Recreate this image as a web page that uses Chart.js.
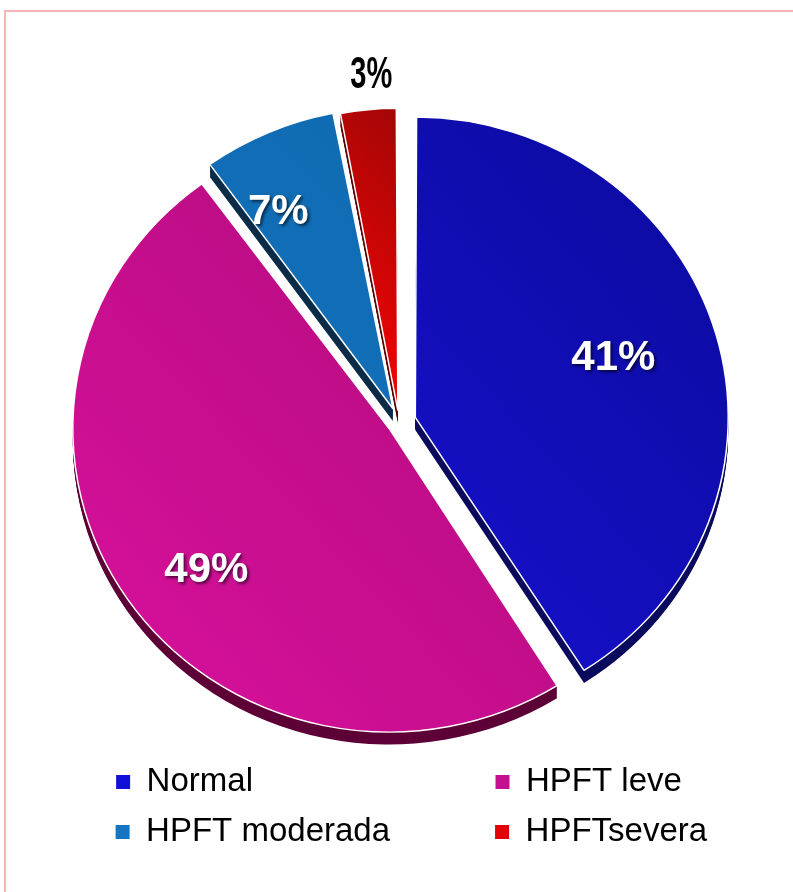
<!DOCTYPE html>
<html>
<head>
<meta charset="utf-8">
<script src="https://cdn.jsdelivr.net/npm/chart.js@4/dist/chart.umd.min.js"></script>
<style>
  html, body { margin: 0; padding: 0; background: #fff; overflow: hidden; }
  #frame { position: absolute; left: 4px; top: 10px; width: 900px; height: 1000px; border: 2px solid #f7b3b3; }
  #wrap { position: absolute; left: 0; top: 0; width: 793px; height: 892px; }
</style>
</head>
<body>
<div id="frame"></div>
<div id="wrap"><canvas id="hpftChart" width="793" height="892"></canvas></div>
<script>
const labels = ['Normal', 'HPFT leve', 'HPFT moderada', 'HPFTsevera'];
const values = [41, 49, 7, 3];

const faceDark = ['#0a0a98', '#a40870', '#0e64a8', '#a00606'];
const faceLight = ['#1c14e4', '#dc12a0', '#1479c6', '#f00404'];
const gradFrom = [0, 0, 0, 0.28];
const gradTo = [1, 1, 1, 0.5];
const sideColors = ['#0b0b5e', '#5e0038', '#0b2c48', '#5c0202'];
const legendColors = ['#1010d8', '#c4108e', '#1476c2', '#e20404'];
const explode = [68, 48, 60, 48];

// where the % labels sit: fraction of the radius and a small turn (degrees)
const labelFrac = [0.68, 0.77, 0.77, 0];
const labelTurn = [-1, -4.5, -5.5, 1];

const FONT = "'Liberation Sans', Arial, sans-serif";
const LEGEND_SIZE = 33;
const SCALE_Y = 0.96;   // slight tilt of the pie
const DEPTH = 13;       // thickness of the 3d side
const COL1_W = 334.5;   // legend column widths (text part)
const COL2_W = 186;

const measureCtx = document.createElement('canvas').getContext('2d');
function padText(t, w) {
  measureCtx.font = LEGEND_SIZE + 'px ' + FONT;
  let s = t;
  let guard = 0;
  while (measureCtx.measureText(s + ' ').width <= w && guard++ < 200) s += ' ';
  guard = 0;
  while (guard++ < 40) {
    const before = measureCtx.measureText(s).width;
    const next = measureCtx.measureText(s + '\u200A').width;
    if (next <= before || next > w) break;
    s += '\u200A';
  }
  return s;
}

function faceGradient(c) {
  const chart = c.chart;
  const a = chart.chartArea;
  const i = c.dataIndex;
  if (!a) return legendColors[i];
  const g = chart.ctx.createLinearGradient(a.right, a.top, a.left, a.bottom);
  g.addColorStop(gradFrom[i], faceDark[i]);
  g.addColorStop(gradTo[i], faceLight[i]);
  return g;
}

// draws the dark side under each slice, squashes the pie a bit, then the % labels
const pie3d = {
  id: 'pie3d',
  beforeDatasetsDraw(chart) {
    const ctx = chart.ctx;
    const arcs = chart.getDatasetMeta(0).data;
    const cx = arcs[0].x, cy = arcs[0].y;
    ctx.save();
    ctx.translate(cx, cy);
    ctx.scale(1, SCALE_Y);
    ctx.translate(-cx, -cy);
    arcs.forEach((arc, i) => {
      const orig = arc.options;
      arc.options = Object.assign({}, orig, { backgroundColor: sideColors[i], borderWidth: 0 });
      for (let k = DEPTH; k > 0; k--) {
        ctx.save();
        ctx.translate(0, k);
        arc.draw(ctx);
        ctx.restore();
      }
      arc.options = orig;
    });
  },
  afterDatasetsDraw(chart) {
    const ctx = chart.ctx;
    ctx.restore();
    const arcs = chart.getDatasetMeta(0).data;
    arcs.forEach((arc, i) => {
      const mid = (arc.startAngle + arc.endAngle) / 2 + labelTurn[i] * Math.PI / 180;
      const shift = arc.options.offset / 4;
      const outside = values[i] < 5;
      const dist = outside ? shift + arc.outerRadius + 45 : shift + arc.outerRadius * labelFrac[i];
      const x = arc.x + Math.cos(mid) * dist;
      const y = arc.y + Math.sin(mid) * dist * SCALE_Y;
      const txt = values[i] + '%';
      ctx.save();
      ctx.textAlign = 'center';
      ctx.textBaseline = 'middle';
      if (outside) {
        ctx.font = 'bold 44px ' + FONT;
        ctx.fillStyle = '#000';
        ctx.translate(x, y);
        ctx.scale(0.66, 1);
        ctx.fillText(txt, 0, 0);
      } else {
        ctx.font = 'bold 42px ' + FONT;
        ctx.fillStyle = '#fff';
        ctx.shadowColor = 'rgba(0,0,0,0.6)';
        ctx.shadowOffsetX = 2;
        ctx.shadowOffsetY = 2;
        ctx.shadowBlur = 3;
        ctx.fillText(txt, x, y);
      }
      ctx.restore();
    });
  }
};

const ctx = document.getElementById('hpftChart').getContext('2d');
const hpftChart = new Chart(ctx, {
  type: 'pie',
  data: {
    labels: labels,
    datasets: [{
      data: values,
      backgroundColor: faceGradient,
      borderColor: '#ffffff',
      borderWidth: 1.5,
      offset: explode,
      clip: false
    }]
  },
  options: {
    responsive: false,
    animation: false,
    radius: 305,
    layout: { padding: { top: 95.5, bottom: 33.5, left: 32.5, right: 0 } },
    plugins: {
      tooltip: { enabled: false },
      // empty title on the right, only used as a spacer so the pie stays centred
      title: {
        display: true,
        position: 'right',
        text: '',
        font: { size: 10 },
        padding: { top: 7.75, bottom: 7.75 }
      },
      legend: {
        position: 'bottom',
        align: 'center',
        labels: {
          boxWidth: 14,
          boxHeight: 14,
          padding: 17,
          color: '#000',
          font: { size: LEGEND_SIZE, family: FONT },
          generateLabels() {
            return labels.map((t, i) => ({
              text: padText(t, i % 2 === 0 ? COL1_W : COL2_W),
              fillStyle: legendColors[i],
              strokeStyle: legendColors[i],
              lineWidth: 0,
              hidden: false,
              index: i,
              datasetIndex: 0
            }));
          }
        }
      }
    }
  },
  plugins: [pie3d]
});
</script>
</body>
</html>
